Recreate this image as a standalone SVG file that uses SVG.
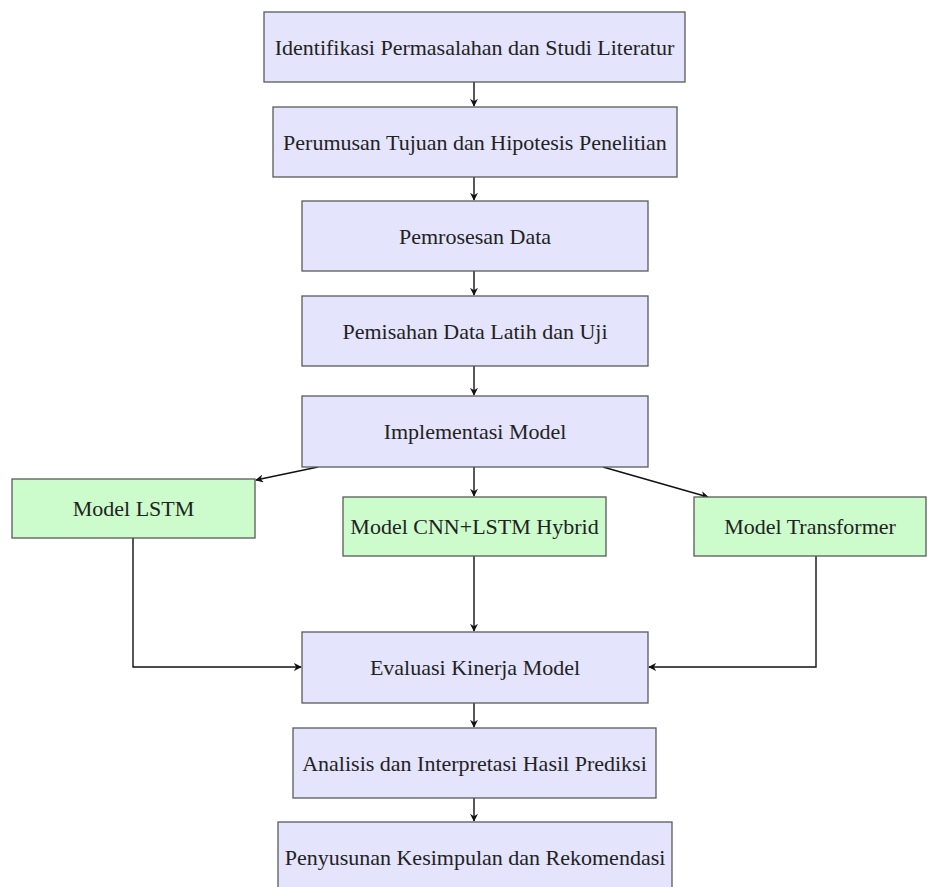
<svg xmlns="http://www.w3.org/2000/svg" width="927" height="887" viewBox="0 0 927 887">
<style>
.b{fill:#e4e4fc;stroke:#5a5a5a;stroke-width:1.3}
.g{fill:#ccfccc;stroke:#5a5a5a;stroke-width:1.3}
.t{font-family:"Liberation Serif","DejaVu Serif",serif;font-size:22px;fill:#222;text-anchor:middle;dominant-baseline:central}
.c{fill:none;stroke:#111;stroke-width:1.4}
</style>
<defs>
<marker id="a" viewBox="0 0 10 10" refX="9" refY="5" markerWidth="8" markerHeight="8" markerUnits="userSpaceOnUse" orient="auto">
<path d="M0,0 L10,5 L0,10 L3,5 Z" fill="#111"/>
</marker>
</defs>
<g id="connectors">
<path class="c" d="M474,82 V106" marker-end="url(#a)"/>
<path class="c" d="M474,177 V200" marker-end="url(#a)"/>
<path class="c" d="M474,271 V295" marker-end="url(#a)"/>
<path class="c" d="M474,366 V395" marker-end="url(#a)"/>
<path class="c" d="M474,467 V496" marker-end="url(#a)"/>
<path class="c" d="M318,467 L256,480" marker-end="url(#a)"/>
<path class="c" d="M603,467 L708,497" marker-end="url(#a)"/>
<path class="c" d="M474,556 V631" marker-end="url(#a)"/>
<path class="c" d="M133,538 V667 H301" marker-end="url(#a)"/>
<path class="c" d="M816,556 V667 H649" marker-end="url(#a)"/>
<path class="c" d="M474,703 V727" marker-end="url(#a)"/>
<path class="c" d="M474,798 V821" marker-end="url(#a)"/>
</g>
<g id="n1"><rect class="b" x="264" y="12" width="421" height="70"/><text class="t" x="474.5" y="47">Identifikasi Permasalahan dan Studi Literatur</text></g>
<g id="n2"><rect class="b" x="273" y="107" width="404" height="70"/><text class="t" x="475" y="142">Perumusan Tujuan dan Hipotesis Penelitian</text></g>
<g id="n3"><rect class="b" x="302" y="201" width="346" height="70"/><text class="t" x="475" y="236">Pemrosesan Data</text></g>
<g id="n4"><rect class="b" x="302" y="296" width="346" height="70"/><text class="t" x="475" y="331">Pemisahan Data Latih dan Uji</text></g>
<g id="n5"><rect class="b" x="302" y="396" width="346" height="71"/><text class="t" x="475" y="431">Implementasi Model</text></g>
<g id="n6"><rect class="g" x="12" y="479" width="243" height="59"/><text class="t" x="133.5" y="508">Model LSTM</text></g>
<g id="n7"><rect class="g" x="343" y="497" width="263" height="59"/><text class="t" x="474.5" y="526">Model CNN+LSTM Hybrid</text></g>
<g id="n8"><rect class="g" x="694" y="497" width="232" height="59"/><text class="t" x="810" y="526">Model Transformer</text></g>
<g id="n9"><rect class="b" x="302" y="632" width="346" height="71"/><text class="t" x="475" y="667">Evaluasi Kinerja Model</text></g>
<g id="n10"><rect class="b" x="293" y="728" width="363" height="70"/><text class="t" x="474.5" y="763">Analisis dan Interpretasi Hasil Prediksi</text></g>
<g id="n11"><rect class="b" x="278" y="822" width="394" height="70"/><text class="t" x="475" y="857">Penyusunan Kesimpulan dan Rekomendasi</text></g>
</svg>
